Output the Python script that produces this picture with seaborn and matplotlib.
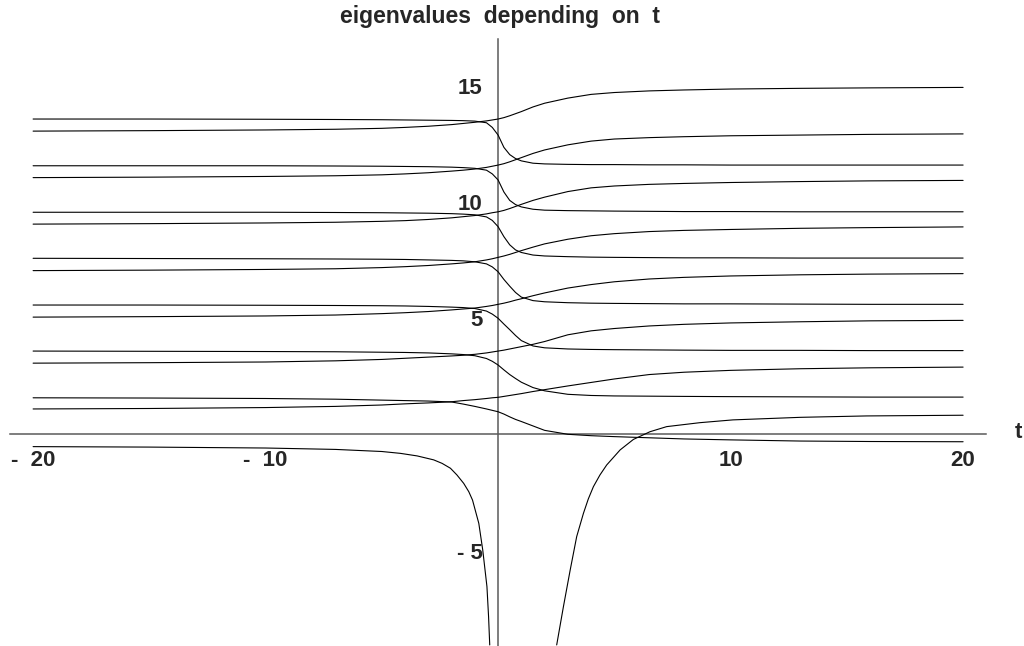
import matplotlib
matplotlib.use("Agg")
import matplotlib.pyplot as plt
import pandas as pd
import seaborn as sns

# ---- data: eigenvalue branches E(t) ----
t_grid = [-20, -15, -10, -7, -5, -4, -3, -2, -1.5, -1, -0.5, -0.25, 0, 0.25,
          0.5, 0.75, 1, 1.5, 2, 3, 4, 5, 6.5, 8, 10, 13, 16, 20]

fall_6 = [13.56, 13.56, 13.55, 13.54, 13.53, 13.52, 13.51, 13.50, 13.49, 13.47, 13.40, 13.2, 12.87, 12.34,
          12.03, 11.86, 11.76, 11.66, 11.63, 11.61, 11.60, 11.60, 11.59, 11.59, 11.58, 11.58, 11.58, 11.58]
rise_6 = [13.04, 13.06, 13.09, 13.12, 13.16, 13.20, 13.25, 13.32, 13.37, 13.42, 13.48, 13.52, 13.56, 13.62,
          13.70, 13.79, 13.88, 14.08, 14.24, 14.46, 14.62, 14.70, 14.77, 14.81, 14.85, 14.88, 14.90, 14.92]
fall_5 = [11.55, 11.55, 11.55, 11.54, 11.53, 11.52, 11.51, 11.49, 11.47, 11.44, 11.36, 11.2, 10.94, 10.42,
          10.06, 9.88, 9.78, 9.68, 9.64, 9.62, 9.61, 9.60, 9.59, 9.58, 9.58, 9.57, 9.57, 9.57]
rise_5 = [11.04, 11.06, 11.09, 11.12, 11.16, 11.20, 11.25, 11.32, 11.36, 11.41, 11.48, 11.53, 11.58, 11.64,
          11.72, 11.81, 11.90, 12.08, 12.23, 12.45, 12.61, 12.70, 12.76, 12.80, 12.84, 12.87, 12.90, 12.92]
fall_4 = [9.55, 9.55, 9.55, 9.54, 9.53, 9.52, 9.51, 9.49, 9.47, 9.44, 9.35, 9.2, 8.93, 8.5,
          8.15, 7.93, 7.82, 7.71, 7.67, 7.64, 7.62, 7.61, 7.60, 7.59, 7.59, 7.58, 7.58, 7.58]
rise_4 = [9.04, 9.06, 9.09, 9.12, 9.16, 9.19, 9.24, 9.31, 9.36, 9.41, 9.48, 9.53, 9.57, 9.63,
          9.71, 9.80, 9.89, 10.06, 10.20, 10.44, 10.60, 10.68, 10.75, 10.79, 10.83, 10.87, 10.90, 10.92]
fall_3 = [7.57, 7.56, 7.55, 7.54, 7.53, 7.52, 7.50, 7.48, 7.46, 7.42, 7.33, 7.2, 6.99, 6.66,
          6.37, 6.10, 5.90, 5.75, 5.70, 5.66, 5.64, 5.63, 5.62, 5.61, 5.61, 5.60, 5.59, 5.59]
rise_3 = [7.04, 7.06, 7.09, 7.12, 7.17, 7.21, 7.26, 7.33, 7.37, 7.42, 7.50, 7.55, 7.61, 7.67,
          7.74, 7.82, 7.90, 8.05, 8.19, 8.39, 8.54, 8.63, 8.72, 8.77, 8.81, 8.86, 8.89, 8.92]
fall_2 = [5.56, 5.56, 5.55, 5.54, 5.53, 5.52, 5.50, 5.47, 5.45, 5.41, 5.30, 5.17, 4.99, 4.74,
          4.50, 4.25, 4.03, 3.80, 3.72, 3.67, 3.65, 3.64, 3.63, 3.62, 3.61, 3.61, 3.60, 3.60]
rise_2 = [5.04, 5.06, 5.09, 5.13, 5.19, 5.23, 5.28, 5.35, 5.39, 5.43, 5.50, 5.54, 5.59, 5.64,
          5.70, 5.77, 5.83, 5.96, 6.08, 6.29, 6.44, 6.56, 6.68, 6.75, 6.81, 6.86, 6.89, 6.91]
fall_1 = [3.58, 3.57, 3.56, 3.55, 3.53, 3.52, 3.50, 3.46, 3.43, 3.38, 3.26, 3.14, 2.98, 2.77,
          2.57, 2.40, 2.24, 2.01, 1.87, 1.72, 1.67, 1.65, 1.64, 1.63, 1.62, 1.61, 1.60, 1.60]
rise_1 = [3.06, 3.08, 3.11, 3.16, 3.22, 3.27, 3.32, 3.37, 3.40, 3.44, 3.50, 3.54, 3.58, 3.62,
          3.67, 3.72, 3.77, 3.87, 3.99, 4.28, 4.45, 4.55, 4.66, 4.73, 4.79, 4.84, 4.88, 4.90]
fall_0 = [1.57, 1.56, 1.54, 1.51, 1.47, 1.45, 1.43, 1.39, 1.30, 1.20, 1.09, 1.03, 0.97, 0.87,
          0.75, 0.64, 0.55, 0.36, 0.17, 0.00, -0.06, -0.10, -0.15, -0.20, -0.24, -0.29, -0.31, -0.32]
rise_0 = [1.09, 1.11, 1.15, 1.20, 1.26, 1.31, 1.35, 1.40, 1.45, 1.49, 1.54, 1.57, 1.59, 1.63,
          1.67, 1.71, 1.75, 1.84, 1.92, 2.08, 2.23, 2.38, 2.57, 2.67, 2.75, 2.82, 2.86, 2.89]

# branch diverging to -inf as t -> 0 from the left
t_left_pole = [-20, -15, -10, -7, -5, -4.2, -3.48, -2.77, -2.41, -2.05, -1.77, -1.48, -1.26,
               -1.1, -0.83, -0.66, -0.48, -0.41, -0.36]
e_left_pole = [-0.53, -0.55, -0.59, -0.65, -0.74, -0.82, -0.93, -1.10, -1.25, -1.46, -1.75, -2.11, -2.47,
               -2.83, -3.83, -4.98, -6.55, -7.84, -9.06]

# branch coming up from -inf on the right
t_right_pole = [2.52, 2.81, 3.1, 3.38, 3.67, 3.88, 4.1, 4.38, 4.67, 5.25, 5.82, 6.53, 7.25, 8.68,
                10.1, 13, 15.85, 20]
e_right_pole = [-9.06, -7.41, -5.84, -4.40, -3.40, -2.78, -2.25, -1.75, -1.32, -0.67, -0.22, 0.11, 0.33, 0.50,
                0.62, 0.73, 0.79, 0.82]

x_major = [-20, -10, 10, 20]
x_major_labels = ["-  20", "-  10", "10", "20"]
y_major = [-5, 5, 10, 15]
y_major_labels = ["- 5", "5", "10", "15"]
x_minor = [-18, -16, -14, -12, -8, -6, -4, -2, 2, 4, 6, 8, 12, 14, 16, 18]
y_minor = [-9, -8, -7, -6, -4, -3, -2, -1, 1, 2, 3, 4, 6, 7, 8, 9, 11, 12, 13, 14, 16]

title = "eigenvalues  depending  on  t"
x_name = "t"

# ---- assemble long table ----
grid_branches = {
    "fall_0": fall_0, "rise_0": rise_0, "fall_1": fall_1, "rise_1": rise_1,
    "fall_2": fall_2, "rise_2": rise_2, "fall_3": fall_3, "rise_3": rise_3,
    "fall_4": fall_4, "rise_4": rise_4, "fall_5": fall_5, "rise_5": rise_5,
    "fall_6": fall_6, "rise_6": rise_6,
}
frames = [pd.DataFrame({"t": t_grid, "E": vals, "branch": name})
          for name, vals in grid_branches.items()]
frames.append(pd.DataFrame({"t": t_left_pole, "E": e_left_pole, "branch": "pole_left"}))
frames.append(pd.DataFrame({"t": t_right_pole, "E": e_right_pole, "branch": "pole_right"}))
df = pd.concat(frames, ignore_index=True)

# ---- figure ----
sns.set_theme(style="white")
plt.rcParams["font.family"] = ["Liberation Sans", "DejaVu Sans"]

W, H = 1024, 646
fig = plt.figure(figsize=(W / 100, H / 100), dpi=100)
ax = fig.add_axes([0, 0, 1, 1])
ax.set_facecolor("white")

sns.lineplot(data=df, x="t", y="E", units="branch", estimator=None, sort=False,
             color="black", linewidth=0.8, ax=ax, legend=False)

# pixel-exact data window: 23.25 px per unit, origin at (498.1, 434.3)
scale = 23.25
x0, y0 = 498.1, 434.3
ax.set_xlim(-x0 / scale, (W - x0) / scale)
ax.set_ylim(-(H - y0) / scale, y0 / scale)

axis_col = "#5a5a5a"
for side in ("top", "right"):
    ax.spines[side].set_visible(False)
ax.spines["left"].set_position(("data", 0))
ax.spines["bottom"].set_position(("data", 0))
ax.spines["bottom"].set_bounds(-21, 21)
ax.spines["left"].set_bounds(-(H - y0) / scale, 17)
for side in ("left", "bottom"):
    ax.spines[side].set_color(axis_col)
    ax.spines[side].set_linewidth(1.1)
    ax.spines[side].set_zorder(0.5)

ax.set_xticks(x_major)
ax.set_xticklabels(x_major_labels)
ax.set_xticks(x_minor, minor=True)
ax.set_yticks(y_major)
ax.set_yticklabels(y_major_labels)
ax.set_yticks(y_minor, minor=True)

ax.tick_params(which="major", direction="in", length=4.5, width=0.8, color=axis_col,
               labelsize=16, pad=11)
ax.tick_params(which="minor", direction="in", length=2.2, width=0.8, color=axis_col)
for lab in ax.get_xticklabels() + ax.get_yticklabels():
    lab.set_fontweight("bold")
ax.set_xlabel("")
ax.set_ylabel("")
ax.grid(False)

fig.text(500 / W, 1 - 17 / H, title, ha="center", va="center",
         fontsize=16.5, fontweight="bold")
fig.text(1018 / W, 1 - 433 / H, x_name, ha="center", va="center",
         fontsize=16, fontweight="bold")

fig.savefig("out.png", dpi=100, facecolor="white")
